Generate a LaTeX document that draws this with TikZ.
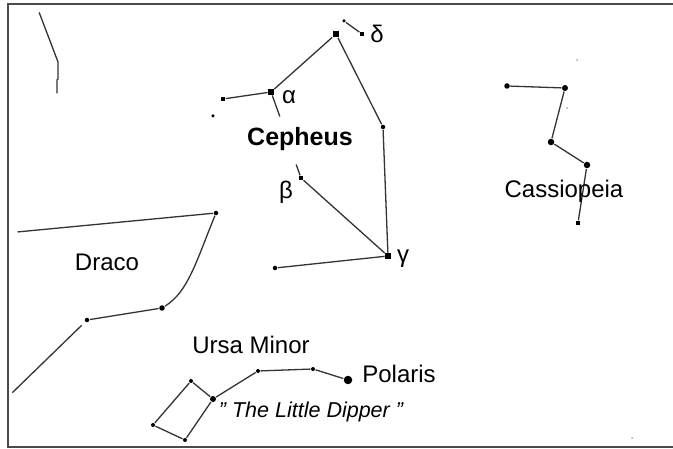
\documentclass[tikz,border=0pt]{standalone}
\usepackage{fontspec}
\setmainfont{Liberation Sans}
\definecolor{linegray}{HTML}{333333}
\definecolor{framegray}{HTML}{4A4A4A}
\begin{document}
\begin{tikzpicture}[x=1pt,y=-1pt,
  star/.style={circle,fill=black,inner sep=0pt,minimum size=4.5pt},
  sqstar/.style={rectangle,fill=black,inner sep=0pt,minimum size=5.5pt},
  bigstar/.style={circle,fill=black,inner sep=0pt,minimum size=8.5pt},
  faint/.style={circle,fill=black!35,inner sep=0pt,minimum size=2pt},
  con/.style={draw=linegray,line width=1.3pt,shorten <=0.5pt,shorten >=0.5pt},
  lbl/.style={font=\fontsize{24}{28}\selectfont,text=black,inner sep=0pt},
  grk/.style={font=\fontsize{24}{28}\selectfont,text=black,inner sep=0pt},
  boldlbl/.style={font=\fontsize{25}{29}\selectfont\bfseries,text=black,inner sep=0pt},
  itlbl/.style={font=\fontsize{21.5}{26}\selectfont\itshape,text=black,inner sep=0pt}]
\useasboundingbox (0,0) rectangle (673,449);
\fill[white] (0,0) rectangle (673,449);
% frame
\coordinate (f1) at (673,4);
\coordinate (f2) at (8,4);
\coordinate (f3) at (8,447);
\coordinate (f4) at (673,447);
\draw[framegray,line width=2pt] (f1) -- (f2) -- (f3) -- (f4);

% top-left fragment
\coordinate (t1) at (39,12);
\coordinate (t2) at (58,62);
\coordinate (t3) at (58,79);
\coordinate (t4) at (57,80);
\coordinate (t5) at (57,94);
\draw[con] (t1) -- (t2) -- (t3) -- (t4) -- (t5);

% Cepheus
\node[star,minimum size=3.5pt] (d1) at (344,21) {};
\node[sqstar,minimum size=4pt] (d2) at (362,34) {};
\node[sqstar,minimum size=6.5pt] (ctop) at (336,34) {};
\node[sqstar] (calpha) at (271,92) {};
\node[sqstar,minimum size=4pt] (cleft) at (223,99) {};
\node[star,minimum size=3.5pt] (cfar) at (213,116) {};
\coordinate (adown) at (280,117);
\node[star] (cright) at (383,127) {};
\node[sqstar] (cgamma) at (388,256) {};
\node[sqstar,minimum size=4pt] (cbeta) at (301,178) {};
\coordinate (btick) at (296,164);
\node[star] (cbot) at (275,268) {};
\draw[con] (d1) -- (d2);
\draw[con] (cleft) -- (calpha);
\draw[con] (calpha) -- (adown);
\draw[con] (calpha) -- (ctop);
\draw[con] (ctop) -- (cright);
\draw[con] (cright) -- (cgamma);
\draw[con] (btick) -- (cbeta);
\draw[con] (cbeta) -- (cgamma);
\draw[con] (cgamma) -- (cbot);
\node[grk] (ldelta) at (377,34) {δ};
\node[grk] (lalpha) at (289,97) {α};
\node[grk] (lbeta) at (286,192) {β};
\node[grk] (lgamma) at (403,259) {γ};
\node[boldlbl] (lceph) at (300,139) {Cepheus};

% Cassiopeia
\node[star,minimum size=5.5pt] (s1) at (507,86) {};
\node[star,minimum size=6pt] (s2) at (565,88) {};
\node[star,minimum size=6.5pt] (s3) at (551,142) {};
\node[star,minimum size=6.5pt] (s4) at (587,165) {};
\node[sqstar,minimum size=4pt] (s5) at (578,223) {};
\node[faint] (fa1) at (577,60) {};
\node[faint] (fa2) at (567,108) {};
\node[faint] (fa3) at (632,438) {};
\draw[con] (s1) -- (s2);
\draw[con] (s2) -- (s3);
\draw[con] (s3) -- (s4);
\draw[con] (s4) -- (s5);
\node[lbl] (lcass) at (564,191) {Cassiopeia};

% Draco
\coordinate (dr0) at (17,232);
\node[star] (dr1) at (216,213) {};
\node[star,minimum size=5.5pt] (dr2) at (162,308) {};
\node[star] (dr3) at (87,320) {};
\coordinate (dr4) at (82,325);
\coordinate (dr5) at (12,393);
\draw[con] (dr0) -- (dr1);
\draw[con] (dr1) .. controls (196,262) and (188,292) .. (dr2);
\draw[con] (dr2) -- (dr3);
\draw[con] (dr4) -- (dr5);
\node[lbl] (ldraco) at (107,262) {Draco};

% Ursa Minor
\node[bigstar] (polaris) at (348,380) {};
\node[star,minimum size=4pt] (u1) at (313,369) {};
\node[star,minimum size=4pt] (u2) at (258,371) {};
\node[star,minimum size=6pt] (u3) at (213,399) {};
\node[star,minimum size=4pt] (u4) at (191,381) {};
\node[star,minimum size=4pt] (u5) at (153,425) {};
\node[star,minimum size=4pt] (u6) at (185,440) {};
\draw[con] (polaris) -- (u1);
\draw[con] (u1) -- (u2);
\draw[con] (u2) -- (u3);
\draw[con] (u3) -- (u4);
\draw[con] (u4) -- (u5);
\draw[con] (u5) -- (u6);
\draw[con] (u6) -- (u3);
\node[lbl] (lursa) at (251,345) {Ursa Minor};
\node[lbl] (lpol) at (399,374) {Polaris};
\node[itlbl] (ldip) at (311,412) {" The Little Dipper "};
\end{tikzpicture}
\end{document}
